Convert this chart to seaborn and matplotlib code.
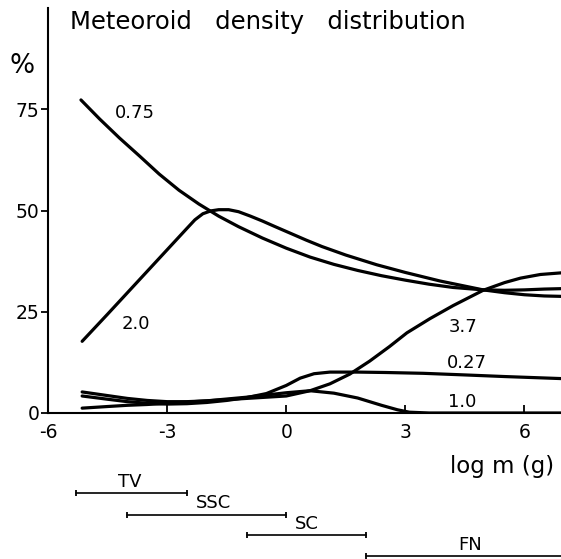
import numpy as np
import pandas as pd
import matplotlib
matplotlib.use("Agg")
import matplotlib.pyplot as plt
import seaborn as sns

# curves: density label -> (log m, percent)
x_075 = [-5.17, -4.7, -4.2, -3.7, -3.2, -2.7, -2.2, -1.7, -1.2, -0.6, 0.0, 0.6, 1.2, 1.8, 2.4, 3.0, 3.6, 4.2, 4.96, 5.5, 6.0, 6.5, 6.92]
y_075 = [77.3, 72.6, 67.9, 63.5, 59.0, 55.0, 51.6, 48.6, 46.0, 43.2, 40.7, 38.5, 36.7, 35.2, 33.9, 32.8, 31.8, 31.0, 30.4, 30.3, 30.4, 30.6, 30.7]

x_20 = [-5.14, -4.5, -4.0, -3.5, -3.0, -2.5, -2.3, -2.1, -1.9, -1.7, -1.45, -1.2, -0.9, -0.6, -0.3, 0.1, 0.5, 0.9, 1.5, 2.28, 3.0, 3.87, 4.96, 5.5, 6.0, 6.5, 6.92]
y_20 = [17.7, 24.4, 29.7, 35.0, 40.3, 45.6, 47.7, 49.2, 49.9, 50.2, 50.2, 49.7, 48.6, 47.4, 46.1, 44.4, 42.7, 41.1, 39.0, 36.6, 34.7, 32.6, 30.4, 29.7, 29.2, 28.9, 28.8]

x_37 = [-5.14, -4.5, -4.0, -3.5, -3.0, -2.0, -1.0, 0.0, 0.6, 1.1, 1.6, 2.1, 2.6, 3.04, 3.62, 4.2, 4.96, 5.5, 5.9, 6.4, 6.92]
y_37 = [1.2, 1.6, 1.9, 2.1, 2.4, 3.0, 3.6, 4.2, 5.5, 7.2, 9.6, 12.8, 16.4, 19.8, 23.3, 26.5, 30.3, 32.2, 33.3, 34.2, 34.6]

x_027 = [-5.14, -4.5, -4.0, -3.5, -3.0, -2.5, -2.0, -1.5, -1.0, -0.5, 0.0, 0.35, 0.7, 1.1, 1.8, 2.5, 3.45, 4.5, 5.5, 6.92]
y_027 = [4.2, 3.4, 2.8, 2.4, 2.2, 2.3, 2.6, 3.1, 3.8, 4.8, 6.8, 8.6, 9.7, 10.1, 10.1, 10.0, 9.8, 9.4, 9.0, 8.5]

x_10 = [-5.14, -4.5, -4.0, -3.5, -3.0, -2.5, -2.0, -1.0, 0.0, 0.6, 1.2, 1.8, 2.4, 2.8, 3.1, 3.6, 6.92]
y_10 = [5.2, 4.3, 3.6, 3.1, 2.8, 2.8, 3.0, 3.9, 5.0, 5.5, 4.9, 3.7, 1.9, 0.8, 0.2, 0.0, 0.0]

# curve labels (text, x, y)
curve_labels = ["0.75", "2.0", "3.7", "0.27", "1.0"]
label_x = [-4.31, -4.14, 4.08, 4.05, 4.08]
label_y = [72.8, 20.7, 20.0, 11.1, 1.5]

# mass ranges of the observing techniques
range_names = ["TV", "SSC", "SC", "FN"]
range_lo = [-5.3, -4.0, -1.0, 2.0]
range_hi = [-2.5, 0.0, 2.0, 7.3]
range_row = [-19.8, -25.1, -30.1, -35.3]
range_text_x = [-3.93, -1.84, 0.52, 4.63]

frames = []
for name, xs, ys in [("0.75", x_075, y_075), ("2.0", x_20, y_20), ("3.7", x_37, y_37),
                     ("0.27", x_027, y_027), ("1.0", x_10, y_10)]:
    frames.append(pd.DataFrame({"logm": xs, "pct": ys, "rho": name}))
df = pd.concat(frames, ignore_index=True)

sns.set_style("ticks")
plt.rcParams["font.family"] = ["DejaVu Sans"]
plt.rcParams["axes.unicode_minus"] = False
plt.rcParams["text.color"] = "black"

fig = plt.figure(figsize=(5.61, 5.59), dpi=100)
ax = fig.add_axes([48 / 561, 146 / 559, 513 / 561, 405 / 559])

sns.lineplot(data=df, x="logm", y="pct", hue="rho", units="rho", estimator=None, sort=False,
             palette={k: "black" for k in curve_labels}, linewidth=2.3, legend=False, ax=ax)

ax.set_xlim(-6, 6.92)
ax.set_ylim(0, 100)
ax.set_xticks([-6, -3, 0, 3, 6])
ax.set_yticks([0, 25, 50, 75])
ax.set_xlabel("")
ax.set_ylabel("")
sns.despine(ax=ax)
for s in ["left", "bottom"]:
    ax.spines[s].set_linewidth(1.5)
    ax.spines[s].set_color("black")
ax.tick_params(axis="x", direction="in", length=6, width=1.3, pad=7, labelsize=13.5, colors="black")
ax.tick_params(axis="y", direction="out", length=5, width=1.3, pad=1, labelsize=13.5, colors="black")

for t, lx, ly in zip(curve_labels, label_x, label_y):
    ax.text(lx, ly, t, fontsize=13, ha="left", va="baseline", color="black")

ax.text(-5.45, 94.7, "Meteoroid   density   distribution", fontsize=17.5, ha="left", va="baseline",
        color="black", clip_on=False)
ax.text(-6.98, 84.0, "%", fontsize=19, ha="left", va="baseline", color="black", clip_on=False)
ax.text(4.13, -14.7, "log m (g)", fontsize=16.5, ha="left", va="baseline", color="black", clip_on=False)

for name, lo, hi, row, tx in zip(range_names, range_lo, range_hi, range_row, range_text_x):
    ax.plot([lo, hi], [row, row], color="black", linewidth=1.2, marker="|", markersize=5,
            markeredgewidth=1.3, clip_on=False)
    ax.text(tx, row + 2.8, name, fontsize=13, ha="center", va="center", color="black", clip_on=False)

fig.savefig("out.png", dpi=100)
